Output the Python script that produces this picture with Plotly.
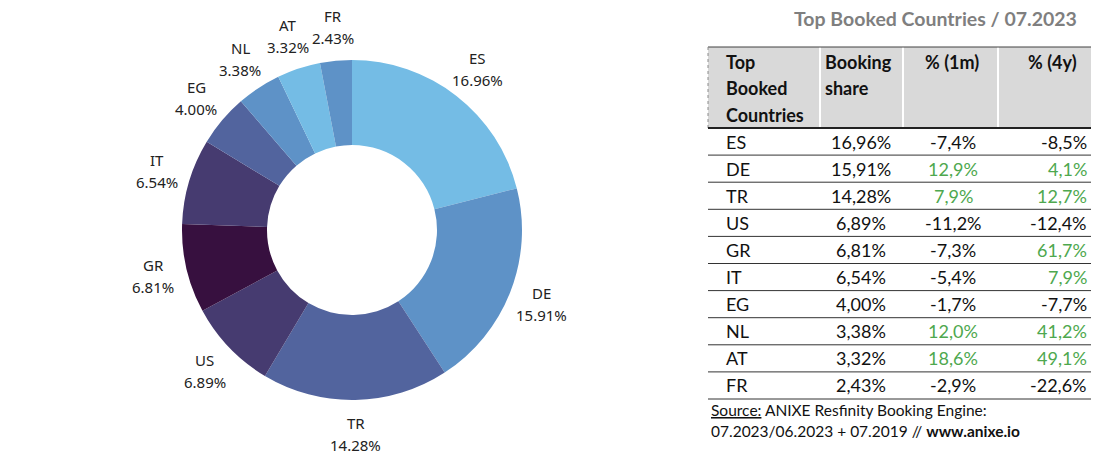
import math
import plotly.graph_objects as go

countries = ["ES", "DE", "TR", "US", "GR", "IT", "EG", "NL", "AT", "FR"]
shares = [16.96, 15.91, 14.28, 6.89, 6.81, 6.54, 4.00, 3.38, 3.32, 2.43]
change_1m = [-7.4, 12.9, 7.9, -11.2, -7.3, -5.4, -1.7, 12.0, 18.6, -2.9]
change_4y = [-8.5, 4.1, 12.7, -12.4, 61.7, 7.9, -7.7, 41.2, 49.1, -22.6]
slice_colors = ["#74BCE5", "#5E92C7", "#52649E", "#463B70", "#37103F",
                "#463B70", "#52649E", "#5E92C7", "#74BCE5", "#5E92C7"]
header_labels = [["Top", "Booked", "Countries"], ["Booking", "share"], ["% (1m)"], ["% (4y)"]]
title_text = "Top Booked Countries / 07.2023"

# body margin is removed in the page, so figure pixels == window pixels
W, H = 1100, 456

def px(x):
    return x / W

def py(y):
    return 1 - y / H

# pie geometry (window pixels)
cx, cy, R = 352, 230, 170
fig = go.Figure()
fig.add_trace(go.Pie(
    labels=countries, values=shares, sort=False, direction="clockwise", rotation=0,
    hole=0.5, textinfo="none", hoverinfo="label+value",
    marker=dict(colors=slice_colors, line=dict(width=0)),
    domain=dict(x=[px(cx - R), px(cx + R)], y=[py(cy + R), py(cy - R)]),
    showlegend=False,
))

annotations = []
total = sum(shares)
cum = 0.0
label_font = dict(family="Noto Sans", size=15, color="#222222")
for c, s in zip(countries, shares):
    mid = (cum + s / 2) / total * 2 * math.pi
    cum += s
    lr = R * 1.2
    lx = cx + lr * math.sin(mid)
    ly = cy - lr * math.cos(mid)
    for t, dy in ((c, -11), (f"{s:.2f}%", 11)):
        annotations.append(dict(x=px(lx), y=py(ly + dy), xref="paper", yref="paper",
                                text=t, showarrow=False, font=label_font, borderpad=0,
                                xanchor="center", yanchor="middle", align="center"))

# table geometry
tx0, tx1 = 708, 1091
col_edges = [708, 820, 903, 998, 1091]
head_top, head_bot = 47, 128
row_h = 27.1
n = len(countries)
shapes = []
shapes.append(dict(type="rect", xref="paper", yref="paper", x0=px(tx0), x1=px(tx1),
                   y0=py(head_bot), y1=py(head_top), fillcolor="#D9D9D9", line=dict(width=0), layer="below"))
for e in col_edges[1:-1]:
    shapes.append(dict(type="line", xref="paper", yref="paper", x0=px(e), x1=px(e),
                       y0=py(head_bot), y1=py(head_top), line=dict(color="white", width=2)))
shapes.append(dict(type="line", xref="paper", yref="paper", x0=px(tx0), x1=px(tx1),
                   y0=py(head_top), y1=py(head_top), line=dict(color="#404040", width=1)))
shapes.append(dict(type="line", xref="paper", yref="paper", x0=px(tx0), x1=px(tx0),
                   y0=py(head_bot), y1=py(head_top), line=dict(color="#8C8C8C", width=1, dash="dot")))
shapes.append(dict(type="line", xref="paper", yref="paper", x0=px(tx0), x1=px(tx1),
                   y0=py(head_bot), y1=py(head_bot), line=dict(color="#222222", width=2)))
for i in range(1, n + 1):
    yy = head_bot + i * row_h
    shapes.append(dict(type="line", xref="paper", yref="paper", x0=px(tx0), x1=px(tx1),
                       y0=py(yy), y1=py(yy), line=dict(color="#333333", width=1)))

tfont = "Lato"
hfont = dict(family=tfont, size=18, color="#111111")
head_x = [(724, "left"), (823, "left"), (952, "center"), (1079, "right")]
for (hx, al), lines in zip(head_x, header_labels):
    for k, t in enumerate(lines):
        annotations.append(dict(x=px(hx), y=py(62 + k * 26.5), xref="paper", yref="paper",
                                text=f"<b>{t}</b>", showarrow=False, font=hfont,
                                xanchor=al, yanchor="middle"))

green = "#4EA84E"
black = "#111111"

def fmt(v, d):
    return f"{v:.{d}f}".replace(".", ",") + "%"

for i in range(n):
    yc = head_bot + (i + 0.5) * row_h
    cells = [
        (724, "left", countries[i], black),
        (861, "center", fmt(shares[i], 2), black),
        (953, "center", fmt(change_1m[i], 1), green if change_1m[i] > 0 else black),
        (1089, "right", fmt(change_4y[i], 1), green if change_4y[i] > 0 else black),
    ]
    for x, al, t, col in cells:
        annotations.append(dict(x=px(x), y=py(yc), xref="paper", yref="paper", text=t,
                                showarrow=False, font=dict(family=tfont, size=18, color=col),
                                xanchor=al, yanchor="middle"))

annotations.append(dict(x=px(1079), y=py(18), xref="paper", yref="paper",
                        text=f"<b>{title_text}</b>", showarrow=False,
                        font=dict(family=tfont, size=19.5, color="#7F7F7F"),
                        xanchor="right", yanchor="middle"))
annotations.append(dict(x=px(709), y=py(410), xref="paper", yref="paper",
                        text="<u>Source:</u> ANIXE Resfinity Booking Engine:", showarrow=False,
                        font=dict(family=tfont, size=15.5, color=black), xanchor="left", yanchor="middle"))
annotations.append(dict(x=px(709), y=py(431), xref="paper", yref="paper",
                        text="07.2023/06.2023 + 07.2019 // <b>www.anixe.io</b>", showarrow=False,
                        font=dict(family=tfont, size=15.5, color=black), xanchor="left", yanchor="middle"))

fig.update_layout(width=W, height=H, margin=dict(l=0, r=0, t=0, b=0),
                  paper_bgcolor="white", plot_bgcolor="white",
                  annotations=annotations, shapes=shapes)
fig.write_html("out.html", config={"displayModeBar": False},
               post_script="document.body.style.margin='0';document.body.style.overflow='hidden';")
